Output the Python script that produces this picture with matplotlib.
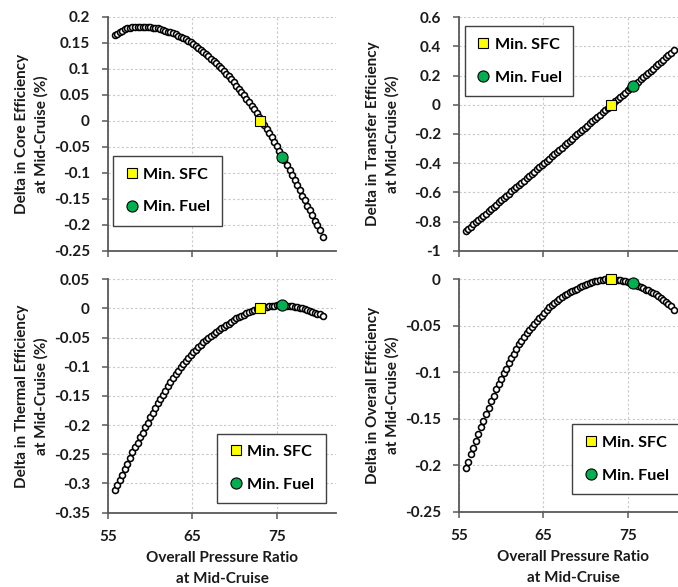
"""Mid-cruise efficiency deltas versus overall pressure ratio (2x2 panels)."""
import matplotlib
matplotlib.use("Agg")
import matplotlib.pyplot as plt                                    # noqa: E402
from matplotlib.lines import Line2D                                # noqa: E402
from matplotlib.ticker import FuncFormatter, MultipleLocator       # noqa: E402

plt.rcParams["font.family"] = ["Lato", "DejaVu Sans"]

# overall pressure ratio of each design point
opr = [55.8, 56.1, 56.4, 56.7, 57.0, 57.3, 57.6, 57.9, 58.2, 58.5,
       58.8, 59.1, 59.4, 59.7, 60.0, 60.3, 60.6, 60.9, 61.2, 61.5,
       61.8, 62.1, 62.4, 62.7, 63.0, 63.3, 63.6, 63.9, 64.2, 64.5,
       64.8, 65.1, 65.4, 65.7, 66.0, 66.3, 66.6, 66.9, 67.2, 67.5,
       67.8, 68.1, 68.4, 68.7, 69.0, 69.3, 69.6, 69.9, 70.2, 70.5,
       70.8, 71.1, 71.4, 71.7, 72.0, 72.3, 72.6, 72.9, 73.2, 73.5,
       73.8, 74.1, 74.4, 74.7, 75.0, 75.3, 75.6, 75.9, 76.2, 76.5,
       76.8, 77.1, 77.4, 77.7, 78.0, 78.3, 78.6, 78.9, 79.2, 79.5,
       79.8, 80.1, 80.5]

d_core = [0.165, 0.168, 0.171, 0.174, 0.176, 0.178, 0.179, 0.180, 0.180, 0.181,
          0.181, 0.181, 0.181, 0.181, 0.180, 0.179, 0.179, 0.178, 0.177, 0.175,
          0.174, 0.172, 0.171, 0.169, 0.167, 0.164, 0.162, 0.159, 0.157, 0.154,
          0.151, 0.148, 0.144, 0.141, 0.137, 0.133, 0.129, 0.125, 0.120, 0.116,
          0.111, 0.106, 0.101, 0.096, 0.091, 0.086, 0.080, 0.074, 0.068, 0.062,
          0.056, 0.049, 0.043, 0.036, 0.029, 0.022, 0.015, 0.007, 0.000, -0.008,
          -0.016, -0.024, -0.032, -0.041, -0.049, -0.058, -0.067, -0.076, -0.085, -0.095,
          -0.104, -0.114, -0.124, -0.134, -0.144, -0.153, -0.163, -0.172, -0.182, -0.192,
          -0.201, -0.211, -0.224]

d_transfer = [-0.865, -0.850, -0.835, -0.820, -0.805, -0.790, -0.775, -0.760, -0.745, -0.729,
              -0.714, -0.699, -0.684, -0.669, -0.654, -0.639, -0.624, -0.609, -0.594, -0.579,
              -0.564, -0.549, -0.534, -0.519, -0.504, -0.489, -0.473, -0.458, -0.443, -0.428,
              -0.413, -0.398, -0.383, -0.368, -0.353, -0.338, -0.323, -0.308, -0.293, -0.278,
              -0.263, -0.248, -0.233, -0.217, -0.202, -0.187, -0.172, -0.157, -0.142, -0.127,
              -0.112, -0.097, -0.082, -0.067, -0.052, -0.037, -0.022, -0.007, 0.008, 0.024,
              0.039, 0.054, 0.069, 0.084, 0.099, 0.114, 0.129, 0.144, 0.159, 0.174,
              0.189, 0.204, 0.219, 0.234, 0.249, 0.264, 0.280, 0.295, 0.310, 0.325,
              0.340, 0.355, 0.375]

d_thermal = [-0.312, -0.303, -0.294, -0.285, -0.275, -0.266, -0.257, -0.247, -0.238, -0.230,
             -0.221, -0.213, -0.204, -0.196, -0.187, -0.179, -0.171, -0.163, -0.155, -0.148,
             -0.141, -0.133, -0.126, -0.120, -0.113, -0.107, -0.101, -0.096, -0.090, -0.085,
             -0.080, -0.075, -0.071, -0.066, -0.062, -0.058, -0.054, -0.051, -0.047, -0.044,
             -0.040, -0.037, -0.034, -0.031, -0.028, -0.026, -0.023, -0.020, -0.017, -0.015,
             -0.013, -0.011, -0.008, -0.006, -0.005, -0.003, -0.001, 0.000, 0.001, 0.002,
             0.003, 0.004, 0.005, 0.005, 0.006, 0.006, 0.006, 0.006, 0.005, 0.005,
             0.004, 0.003, 0.002, 0.001, 0.000, -0.001, -0.003, -0.004, -0.006, -0.007,
             -0.009, -0.010, -0.013]

d_overall = [-0.203, -0.196, -0.188, -0.181, -0.174, -0.166, -0.159, -0.152, -0.145, -0.138,
             -0.131, -0.125, -0.118, -0.113, -0.107, -0.101, -0.096, -0.090, -0.085, -0.080,
             -0.075, -0.070, -0.066, -0.062, -0.058, -0.055, -0.051, -0.048, -0.045, -0.042,
             -0.039, -0.036, -0.033, -0.030, -0.028, -0.026, -0.023, -0.021, -0.019, -0.017,
             -0.016, -0.014, -0.013, -0.011, -0.010, -0.008, -0.007, -0.006, -0.005, -0.004,
             -0.003, -0.002, -0.002, -0.001, -0.001, 0.000, 0.000, 0.000, 0.000, -0.001,
             -0.001, -0.001, -0.002, -0.002, -0.003, -0.004, -0.004, -0.006, -0.007, -0.008,
             -0.009, -0.011, -0.012, -0.014, -0.015, -0.016, -0.018, -0.020, -0.022, -0.024,
             -0.027, -0.029, -0.033]

# optimum designs: minimum SFC and minimum mission fuel
sfc_opr, fuel_opr = 73.0, 75.6
sfc_vals = [0.0, 0.0, 0.0, 0.0]
fuel_vals = [-0.069, 0.13, 0.006, -0.004]

ylabels = ["Delta in Core Efficiency\nat Mid-Cruise (%)",
           "Delta in Transfer Efficiency\nat Mid-Cruise (%)",
           "Delta in Thermal Efficiency\nat Mid-Cruise (%)",
           "Delta in Overall Efficiency\nat Mid-Cruise (%)"]
ylims = [(-0.25, 0.2), (-1.0, 0.6), (-0.35, 0.05), (-0.25, 0.0)]
ysteps = [0.05, 0.2, 0.05, 0.05]
xticks = [55, 65, 75]
series = [d_core, d_transfer, d_thermal, d_overall]

W, H = 678, 587
# axes boxes in pixels: left, top, bottom
boxes = [(108, 17, 250.7), (459, 17.3, 250.7), (108, 279.3, 512.5), (459, 279.3, 511.7)]
AX_W = 228
# legend anchors (axes fraction) and corner
leg_pos = [((0.022, 0.405), "upper left"), ((0.026, 0.962), "upper left"),
           ((0.478, 0.040), "lower left"), ((0.496, 0.076), "lower left")]

GRID = "#c8c8c8"
SPINE = "#595959"
TXT = "#1a1a1a"

fig = plt.figure(figsize=(W / 100, H / 100), dpi=100)

for i in range(4):
    left, top, bot = boxes[i]
    ax = fig.add_axes([left / W, (H - bot) / H, AX_W / W, (bot - top) / H])
    ax.plot(opr, series[i], "o", ms=4.3, mfc="white", mec="black", mew=1.15,
            zorder=3, clip_on=False)
    ax.plot([sfc_opr], [sfc_vals[i]], "s", ms=7.2, mfc="#ffff00", mec="black",
            mew=0.8, zorder=4, clip_on=False)
    ax.plot([fuel_opr], [fuel_vals[i]], "o", ms=8.0, mfc="#00b050", mec="black",
            mew=0.8, zorder=4, clip_on=False)

    ax.set_xlim(55, 82)
    ax.set_ylim(*ylims[i])
    ax.set_xticks(xticks)
    ax.yaxis.set_major_locator(MultipleLocator(ysteps[i]))
    ax.yaxis.set_major_formatter(FuncFormatter(lambda v, p: f"{round(v, 3):g}"))
    ax.grid(True, color=GRID, ls=(0, (2, 2)), lw=0.8, zorder=0)
    for s in ("top", "right"):
        ax.spines[s].set_visible(False)
    for s in ("left", "bottom"):
        ax.spines[s].set_color(SPINE)
        ax.spines[s].set_linewidth(1.3)
    ax.tick_params(axis="both", direction="out", length=4, width=1.1,
                   color=SPINE, labelsize=11, labelcolor=TXT)
    ax.tick_params(axis="y", pad=9)
    ax.tick_params(axis="x", pad=8.5)
    for lab in ax.get_yticklabels() + ax.get_xticklabels():
        lab.set_fontweight("bold")

    if i < 2:
        ax.tick_params(axis="x", labelbottom=False)
    else:
        ax.set_xlabel("Overall Pressure Ratio\nat Mid-Cruise", fontsize=11,
                      fontweight="bold", color=TXT, linespacing=1.6)
        ax.xaxis.set_label_coords(0.5, -0.165)

    ax.set_ylabel(ylabels[i], fontsize=11, fontweight="bold", color=TXT,
                  va="center", linespacing=1.5)
    ax.yaxis.set_label_coords(-0.335, 0.5)

    handles = [
        Line2D([], [], ls="none", marker="s", ms=7.2, mfc="#ffff00", mec="black", mew=0.8),
        Line2D([], [], ls="none", marker="o", ms=8.0, mfc="#00b050", mec="black", mew=0.8),
    ]
    anchor, loc = leg_pos[i]
    leg = ax.legend(handles, ["Min. SFC", "Min. Fuel"], loc=loc, bbox_to_anchor=anchor,
                    frameon=True, fancybox=False, framealpha=1, edgecolor="#404040",
                    prop={"size": 11.6, "weight": "bold"}, handlelength=0.9,
                    handletextpad=0.28, labelspacing=1.15, borderpad=0.7,
                    borderaxespad=0.0)
    leg.get_frame().set_linewidth(1.0)
    leg.set_zorder(5)

fig.savefig("out.png", dpi=100)
